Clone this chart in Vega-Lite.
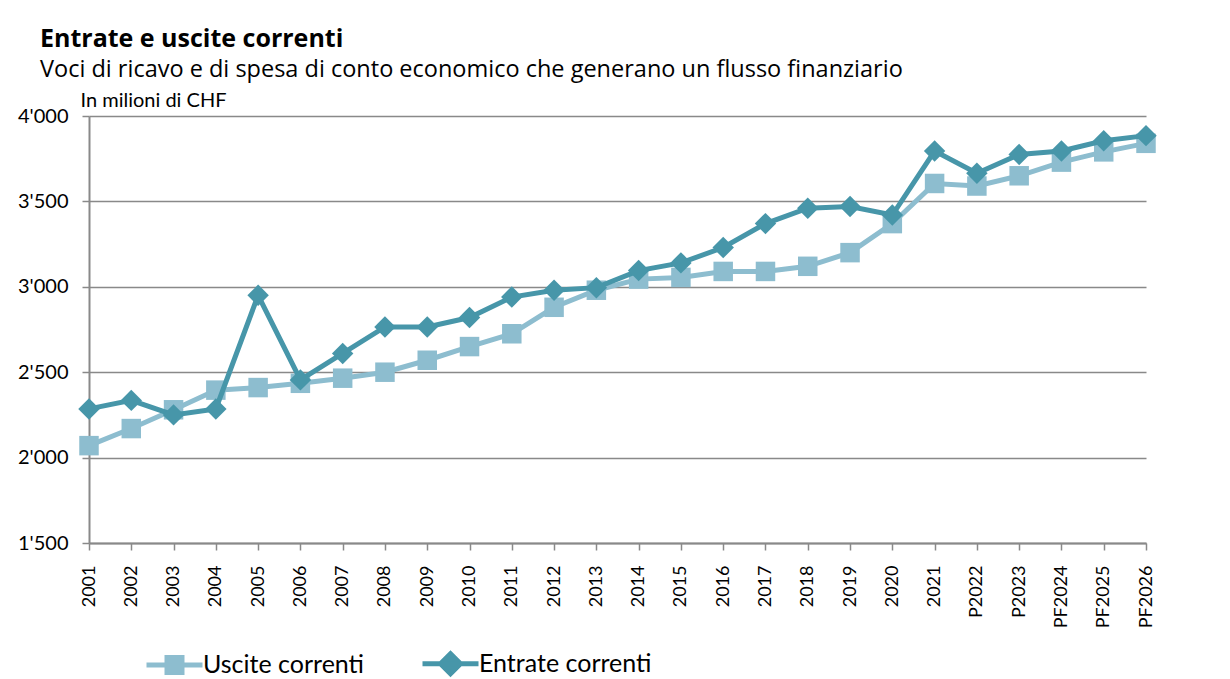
{
  "$schema": "https://vega.github.io/schema/vega-lite/v6.json",
  "autosize": "none",
  "width": 1057,
  "height": 427,
  "padding": {"left": 89, "top": 116, "right": 84, "bottom": 136},
  "background": "white",
  "title": {
    "text": "Entrate e uscite correnti",
    "subtitle": "Voci di ricavo e di spesa di conto economico che generano un flusso finanziario",
    "anchor": "start",
    "frame": "group",
    "dx": -49,
    "offset": 9,
    "font": "Open Sans",
    "fontSize": 25,
    "fontWeight": "bold",
    "color": "black",
    "subtitleFont": "Open Sans",
    "subtitleFontSize": 23.5,
    "subtitleColor": "black",
    "subtitlePadding": 6
  },
  "data": {
    "values": [
      {"anno": "2001", "serie": "Uscite correnti", "valore": 2070},
      {"anno": "2002", "serie": "Uscite correnti", "valore": 2170},
      {"anno": "2003", "serie": "Uscite correnti", "valore": 2280},
      {"anno": "2004", "serie": "Uscite correnti", "valore": 2395},
      {"anno": "2005", "serie": "Uscite correnti", "valore": 2410},
      {"anno": "2006", "serie": "Uscite correnti", "valore": 2435},
      {"anno": "2007", "serie": "Uscite correnti", "valore": 2465},
      {"anno": "2008", "serie": "Uscite correnti", "valore": 2500},
      {"anno": "2009", "serie": "Uscite correnti", "valore": 2570},
      {"anno": "2010", "serie": "Uscite correnti", "valore": 2650},
      {"anno": "2011", "serie": "Uscite correnti", "valore": 2725},
      {"anno": "2012", "serie": "Uscite correnti", "valore": 2880},
      {"anno": "2013", "serie": "Uscite correnti", "valore": 2980},
      {"anno": "2014", "serie": "Uscite correnti", "valore": 3045},
      {"anno": "2015", "serie": "Uscite correnti", "valore": 3055},
      {"anno": "2016", "serie": "Uscite correnti", "valore": 3090},
      {"anno": "2017", "serie": "Uscite correnti", "valore": 3090},
      {"anno": "2018", "serie": "Uscite correnti", "valore": 3120},
      {"anno": "2019", "serie": "Uscite correnti", "valore": 3200},
      {"anno": "2020", "serie": "Uscite correnti", "valore": 3370},
      {"anno": "2021", "serie": "Uscite correnti", "valore": 3605},
      {"anno": "P2022", "serie": "Uscite correnti", "valore": 3590},
      {"anno": "P2023", "serie": "Uscite correnti", "valore": 3650},
      {"anno": "PF2024", "serie": "Uscite correnti", "valore": 3730},
      {"anno": "PF2025", "serie": "Uscite correnti", "valore": 3790},
      {"anno": "PF2026", "serie": "Uscite correnti", "valore": 3840},
      {"anno": "2001", "serie": "Entrate correnti", "valore": 2285},
      {"anno": "2002", "serie": "Entrate correnti", "valore": 2335},
      {"anno": "2003", "serie": "Entrate correnti", "valore": 2250},
      {"anno": "2004", "serie": "Entrate correnti", "valore": 2285},
      {"anno": "2005", "serie": "Entrate correnti", "valore": 2950},
      {"anno": "2006", "serie": "Entrate correnti", "valore": 2455},
      {"anno": "2007", "serie": "Entrate correnti", "valore": 2610},
      {"anno": "2008", "serie": "Entrate correnti", "valore": 2765},
      {"anno": "2009", "serie": "Entrate correnti", "valore": 2765},
      {"anno": "2010", "serie": "Entrate correnti", "valore": 2820},
      {"anno": "2011", "serie": "Entrate correnti", "valore": 2940},
      {"anno": "2012", "serie": "Entrate correnti", "valore": 2980},
      {"anno": "2013", "serie": "Entrate correnti", "valore": 2995},
      {"anno": "2014", "serie": "Entrate correnti", "valore": 3095},
      {"anno": "2015", "serie": "Entrate correnti", "valore": 3140},
      {"anno": "2016", "serie": "Entrate correnti", "valore": 3230},
      {"anno": "2017", "serie": "Entrate correnti", "valore": 3370},
      {"anno": "2018", "serie": "Entrate correnti", "valore": 3460},
      {"anno": "2019", "serie": "Entrate correnti", "valore": 3470},
      {"anno": "2020", "serie": "Entrate correnti", "valore": 3420},
      {"anno": "2021", "serie": "Entrate correnti", "valore": 3795},
      {"anno": "P2022", "serie": "Entrate correnti", "valore": 3665},
      {"anno": "P2023", "serie": "Entrate correnti", "valore": 3775},
      {"anno": "PF2024", "serie": "Entrate correnti", "valore": 3795},
      {"anno": "PF2025", "serie": "Entrate correnti", "valore": 3855},
      {"anno": "PF2026", "serie": "Entrate correnti", "valore": 3885}
    ]
  },
  "encoding": {
    "x": {
      "field": "anno",
      "type": "ordinal",
      "sort": null,
      "scale": {"type": "point", "padding": 0},
      "axis": {
        "title": null,
        "labelAngle": 270,
        "labelFont": "Lato",
        "labelFontSize": 18,
        "labelColor": "black",
        "labelPadding": 15,
        "domainColor": "#898989",
        "domainWidth": 2,
        "tickColor": "#898989",
        "tickWidth": 1.5,
        "tickSize": 7,
        "grid": false
      }
    },
    "y": {
      "field": "valore",
      "type": "quantitative",
      "scale": {"domain": [1500, 4000], "nice": false, "zero": false},
      "axis": {
        "values": [1500, 2000, 2500, 3000, 3500, 4000],
        "labelExpr": "replace(format(datum.value, ','), ',', \"'\")",
        "title": "In milioni di CHF",
        "titleAngle": 0,
        "titleX": -9,
        "titleY": -6,
        "titleAlign": "left",
        "titleBaseline": "bottom",
        "titleFont": "Lato",
        "titleFontSize": 20,
        "titleFontWeight": "normal",
        "titleColor": "black",
        "grid": true,
        "gridColor": "#898989",
        "gridWidth": 1.5,
        "domainColor": "#898989",
        "domainWidth": 2,
        "tickColor": "#898989",
        "tickWidth": 1.5,
        "tickSize": 7,
        "labelFont": "Lato",
        "labelFontSize": 20,
        "labelColor": "black",
        "labelPadding": 14
      }
    }
  },
  "layer": [
    {
      "transform": [{"filter": "datum.serie === 'Uscite correnti'"}],
      "mark": {"type": "line", "strokeWidth": 5, "color": "#8dbdcf"}
    },
    {
      "transform": [{"filter": "datum.serie === 'Uscite correnti'"}],
      "mark": {"type": "point", "shape": "square", "filled": true, "size": 380, "opacity": 1, "color": "#8dbdcf"}
    },
    {
      "transform": [{"filter": "datum.serie === 'Entrate correnti'"}],
      "mark": {"type": "line", "strokeWidth": 5, "color": "#4796a9"}
    },
    {
      "transform": [{"filter": "datum.serie === 'Entrate correnti'"}],
      "mark": {"type": "point", "shape": "diamond", "filled": true, "size": 460, "opacity": 1, "color": "#4796a9"}
    },
    {
      "transform": [{"filter": "false"}],
      "mark": {"type": "point", "opacity": 1, "strokeWidth": 5},
      "encoding": {
        "fill": {
          "field": "serie",
          "type": "nominal",
          "scale": {"domain": ["Uscite correnti", "Entrate correnti"], "range": ["#8dbdcf", "#4796a9"]},
          "legend": null
        },
        "stroke": {
          "field": "serie",
          "type": "nominal",
          "scale": {"domain": ["Uscite correnti", "Entrate correnti"], "range": ["#8dbdcf", "#4796a9"]},
          "legend": null
        },
        "shape": {
          "field": "serie",
          "type": "nominal",
          "scale": {
            "domain": ["Uscite correnti", "Entrate correnti"],
            "range": ["M-2.8,0H2.8M-0.75,-0.75H0.75V0.75H-0.75Z", "M-2.8,0H2.8M-1,0L0,-1L1,0L0,1Z"]
          },
          "legend": {
            "title": null,
            "orient": "none",
            "legendX": 73,
            "legendY": 535,
            "direction": "horizontal",
            "padding": 0,
            "symbolSize": 400,
            "symbolStrokeWidth": 5,
            "symbolOpacity": 1,
            "labelFont": "Lato",
            "labelFontSize": 25,
            "labelColor": "black",
            "labelOffset": 16,
            "labelLimit": 400,
            "columnPadding": 47
          }
        }
      }
    }
  ],
  "config": {
    "view": {"stroke": null},
    "font": "Lato"
  }
}
